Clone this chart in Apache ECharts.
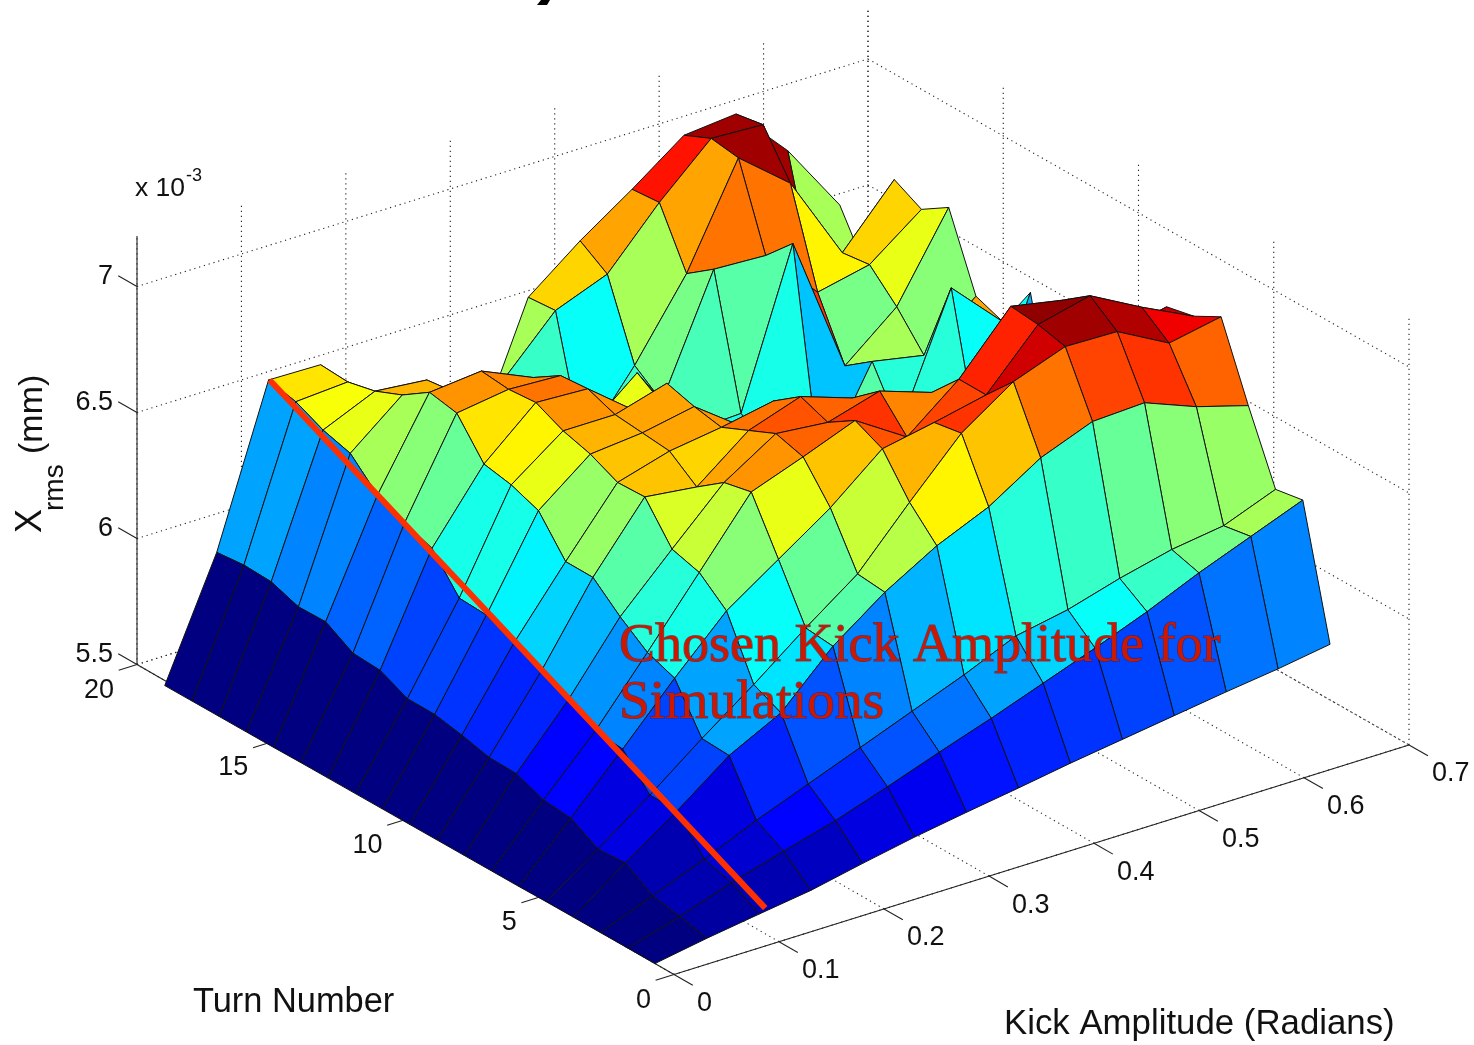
<!DOCTYPE html>
<html><head><meta charset="utf-8">
<style>html,body{margin:0;padding:0;background:#fff}#c{width:1474px;height:1045px}</style>
<script src="https://cdn.jsdelivr.net/npm/echarts@6/dist/echarts.min.js"></script>
</head><body><div id="c"></div>
<script>
// ---- data ----
const kickAmplitude = [0,.0495,.0989,.1484,.1978,.2473,.2967,.3462,.3956,.4451,.4945,.544,.5934,.6429];
const turnNumber = [.708,1.722,2.737,3.751,4.766,5.78,6.794,7.809,8.823,9.838,10.852,11.866,12.881,13.895,14.91,15.924,16.938,17.953,18.967];
const xrmsTurn00 = [5.50,5.536,5.567,5.597,5.64,5.68,5.714,5.746,5.78,5.81,5.84,5.87,5.897,5.93];
const xrmsTurn01 = [5.499,5.56,5.63,5.69,5.747,5.817,5.89,5.96,6.035,6.11,6.19,6.28,6.36,6.44];
const xrmsTurn02 = [5.498,5.58,5.66,5.75,5.83,5.91,5.99,6.07,6.16,6.2,6.26,6.31,6.34,6.42];
const xrmsTurn03 = [5.497,5.647,5.79,5.945,6.05,6.25,6.40,6.52,6.61,6.74,6.82,6.83,6.75,6.69];
const xrmsTurn04 = [5.496,5.64,5.79,5.95,6.10,6.26,6.41,6.63,6.84,6.98,7.055,7.05,6.94,6.98];
const xrmsTurn05 = [5.494,5.70,5.91,6.127,6.33,6.47,6.61,6.78,6.82,6.865,7.08,7.13,7.02,6.92];
const xrmsTurn06 = [5.493,5.71,5.92,6.167,6.42,6.675,6.75,6.83,6.70,6.865,7.09,7.05,6.85,6.895];
const xrmsTurn07 = [5.492,5.752,5.98,6.246,6.45,6.65,6.78,6.76,6.82,6.75,6.5,6.5,6.55,6.5];
const xrmsTurn08 = [5.491,5.754,6.03,6.34,6.595,6.57,6.73,6.80,6.73,6.5,6.3,6.2,6.2,6.3];
const xrmsTurn09 = [5.49,5.78,6.08,6.34,6.59,6.65,6.68,6.72,6.63,6.3,6.1,6.1,6.1,6.2];
const xrmsTurn10 = [5.489,5.80,6.13,6.48,6.64,6.66,6.70,6.55,6.4,6.2,6.05,6.1,5.98,6.1];
const xrmsTurn11 = [5.488,5.80,6.135,6.52,6.67,6.67,6.73,6.35,6.3,6.1,6.0,6.17,6.10,6.64];
const xrmsTurn12 = [5.487,5.85,6.27,6.54,6.72,6.71,6.55,6.3,6.15,6.1,6.25,6.17,6.66,6.46];
const xrmsTurn13 = [5.486,5.856,6.31,6.68,6.71,6.70,6.47,6.45,6.15,6.14,6.0,6.37,6.33,6.5];
const xrmsTurn14 = [5.484,5.918,6.357,6.70,6.72,6.63,6.35,6.52,6.22,6.23,6.84,6.29,6.46,6.79];
const xrmsTurn15 = [5.483,5.915,6.46,6.627,6.575,6.35,6.2,6.2,6.28,6.74,6.73,6.52,6.565,6.72];
const xrmsTurn16 = [5.482,5.952,6.49,6.58,6.56,6.3,6.2,6.10,6.36,6.66,7.055,6.89,6.55,6.776];
const xrmsTurn17 = [5.481,5.956,6.54,6.554,6.4,6.3,6.37,6.58,6.66,6.88,7.07,7.06,6.36,6.35];
const xrmsTurn18 = [5.48,5.944,6.564,6.56,6.3,6.2,6.07,6.57,6.73,6.87,7.02,7.04,6.83,6.55];
const xrms = [xrmsTurn00,xrmsTurn01,xrmsTurn02,xrmsTurn03,xrmsTurn04,xrmsTurn05,xrmsTurn06,xrmsTurn07,xrmsTurn08,xrmsTurn09,xrmsTurn10,xrmsTurn11,xrmsTurn12,xrmsTurn13,xrmsTurn14,xrmsTurn15,xrmsTurn16,xrmsTurn17,xrmsTurn18];
const chosenKickLine = [[.1,18.97,6.562],[.105,.708,5.583]];
const kickTicks = [0,.1,.2,.3,.4,.5,.6,.7];
const kickTickLabels = ['0','0.1','0.2','0.3','0.4','0.5','0.6','0.7'];
const turnTicks = [0,5,10,15,20];
const turnTickLabels = ['0','5','10','15','20'];
const xrmsTicks = [5.5,6,6.5,7];
const xrmsTickLabels = ['5.5','6','6.5','7'];
const xrmsTop = 7.2;

// ---- view projection (orthographic) ----
const VIEW = {ox:674, oy:974.5, kx:1050, ky:-328, tx:-26.85, ty:-15.5, zy:-252, z0:5.5};
function project(k,t,z){
  return [VIEW.ox+VIEW.kx*k+VIEW.tx*t, VIEW.oy+VIEW.ky*k+VIEW.ty*t+VIEW.zy*(z-VIEW.z0)];
}
// the back walls of the box sit very slightly closer together in the picture
function projectBox(k,t,z){
  const p=project(k,t,z), w=(k/.7)*(t/20);
  return [p[0]-4*w, p[1]+2*w];
}
// ---- jet colormap, 64 levels ----
const zAll = xrms.flat(), zMin = Math.min(...zAll), zMax = Math.max(...zAll);
function jet(v){
  let t=(v-zMin)/(zMax-zMin); t=Math.min(63,Math.floor(t*64))/63;
  const f=(o)=>Math.round(255*Math.max(0,Math.min(1,1.5-Math.abs(4*t-o))));
  return 'rgb('+f(3)+','+f(2)+','+f(1)+')';
}
// ---- cells back to front ----
const cells=[];
for(let j=turnNumber.length-2;j>=0;j--) for(let i=kickAmplitude.length-2;i>=0;i--) cells.push([i,j]);

// ---- box: grid and axis segments [k1,t1,z1,k2,t2,z2,kind], kind 0 dotted, 1 solid ----
const kMax=.7,tMax=20,zFloor=5.5;
const segs=[];
kickTicks.forEach(k=>{
  segs.push([k,0,zFloor,k,tMax,zFloor,0]);
  segs.push([k,tMax,zFloor,k,tMax,xrmsTop,0]);
});
turnTicks.forEach(t=>{
  segs.push([0,t,zFloor,kMax,t,zFloor,0]);
  segs.push([kMax,t,zFloor,kMax,t,xrmsTop,0]);
});
xrmsTicks.forEach(z=>{
  segs.push([0,tMax,z,kMax,tMax,z,0]);
  segs.push([kMax,tMax,z,kMax,0,z,0]);
});
const axisSegs=[[0,0,zFloor,kMax,0,zFloor,1],[0,0,zFloor,0,tMax,zFloor,1],[0,tMax,zFloor,0,tMax,xrmsTop,1]];
kickTicks.forEach(k=>axisSegs.push([k,0,zFloor,k,-.7,zFloor,1]));
turnTicks.forEach(t=>axisSegs.push([0,t,zFloor,-.0175,t,zFloor,1]));
xrmsTicks.forEach(z=>axisSegs.push([0,tMax,z,0,tMax+.7,z,1]));

function segRender(params,api){
  const a=api.coord(projectBox(api.value(0),api.value(1),api.value(2)));
  const b=api.coord(projectBox(api.value(3),api.value(4),api.value(5)));
  const solid=api.value(6)===1;
  return {type:'line',shape:{x1:a[0],y1:a[1],x2:b[0],y2:b[1]},
    style:{stroke:'#222',lineWidth:1.1,lineDash:solid?null:[1.2,3.8],fill:null},silent:true};
}
function cellRender(params,api){
  const i=api.value(0),j=api.value(1);
  const corner=(a,b)=>api.coord(project(kickAmplitude[a],turnNumber[b],xrms[b][a]));
  return {type:'polygon',shape:{points:[corner(i,j),corner(i+1,j),corner(i+1,j+1),corner(i,j+1)]},
    style:{fill:jet(xrms[j][i]),stroke:'#111',lineWidth:1,lineJoin:'round'},silent:true};
}
function chosenRender(params,api){
  const a=api.coord(project(chosenKickLine[0][0],chosenKickLine[0][1],chosenKickLine[0][2]));
  const b=api.coord(project(chosenKickLine[1][0],chosenKickLine[1][1],chosenKickLine[1][2]));
  return {type:'line',shape:{x1:a[0],y1:a[1],x2:b[0],y2:b[1]},style:{stroke:'#ff3000',lineWidth:6},silent:true};
}
const FONT='"Liberation Sans",Arial,sans-serif';
function labelRender(list,dx,dy,align,pos){
  return function(params,api){
    const n=api.value(0);
    const p=api.coord(pos(n));
    return {type:'text',x:p[0]+dx,y:p[1]+dy,silent:true,
      style:{text:list[n],font:'27px '+FONT,fill:'#111',align:align,verticalAlign:'middle'}};
  };
}
const axisX={type:'value',min:0,max:1474,show:false};
const axisY={type:'value',min:0,max:1045,inverse:true,show:false};
const idx=a=>a.map((_,n)=>[n,0]);
const plain={coordinateSystem:'cartesian2d',type:'custom',clip:false,animation:false,silent:true,encode:{x:0,y:1}};
const ANNOT={fill:'#cc1800',stroke:'rgba(60,20,60,.6)',lineWidth:1.2,verticalAlign:'middle'};
const option={
  animation:false,backgroundColor:'#fff',
  grid:{left:0,right:0,top:0,bottom:0},xAxis:axisX,yAxis:axisY,tooltip:{show:false},
  series:[
    Object.assign({},plain,{name:'box grid',renderItem:segRender,data:segs}),
    Object.assign({},plain,{name:'box axes',renderItem:segRender,data:axisSegs}),
    Object.assign({},plain,{name:'Xrms surface',renderItem:cellRender,data:cells}),
    Object.assign({},plain,{name:'chosen kick',renderItem:chosenRender,data:[[0,0]]}),
    Object.assign({},plain,{name:'kick labels',data:idx(kickTicks),
      renderItem:labelRender(kickTickLabels,23,29,'left',n=>project(kickTicks[n],0,zFloor))}),
    Object.assign({},plain,{name:'turn labels',data:idx(turnTicks),
      renderItem:labelRender(turnTickLabels,-23,26,'right',n=>project(0,turnTicks[n],zFloor))}),
    Object.assign({},plain,{name:'xrms labels',data:idx(xrmsTicks),
      renderItem:labelRender(xrmsTickLabels,-24,-10,'right',n=>project(0,tMax,xrmsTicks[n]))}),
  ],
  graphic:[
    {type:'text',z:100,x:193,y:1003,silent:true,style:{text:'Turn Number',font:'34.4px '+FONT,fill:'#111',verticalAlign:'middle'}},
    {type:'text',z:100,x:1004,y:1024,silent:true,style:{text:'Kick Amplitude (Radians)',font:'34.8px '+FONT,fill:'#111',verticalAlign:'middle'}},
    {type:'text',z:100,x:135,y:189,silent:true,style:{text:'x 10',font:'26.5px '+FONT,fill:'#111',verticalAlign:'middle'}},
    {type:'text',z:100,x:186,y:176,silent:true,style:{text:'-3',font:'18px '+FONT,fill:'#111',verticalAlign:'middle'}},
    {type:'text',z:100,x:31,y:533,rotation:Math.PI/2,silent:true,style:{text:'X',font:'36px '+FONT,fill:'#111',verticalAlign:'middle'}},
    {type:'text',z:100,x:55,y:511,rotation:Math.PI/2,silent:true,style:{text:'rms',font:'28px '+FONT,fill:'#111',verticalAlign:'middle'}},
    {type:'text',z:100,x:33,y:454,rotation:Math.PI/2,silent:true,style:{text:'(mm)',font:'34px '+FONT,fill:'#111',verticalAlign:'middle'}},
    {type:'text',z:100,x:619,y:647,silent:true,style:Object.assign({text:'Chosen Kick Amplitude for',font:'54px "Liberation Serif",serif'},ANNOT)},
    {type:'text',z:100,x:619,y:703,silent:true,style:Object.assign({text:'Simulations',font:'55.5px "Liberation Serif",serif'},ANNOT)},
    {type:'polygon',z:100,silent:true,shape:{points:[[537,5],[541,0],[550,0],[547,5]]},style:{fill:'#000'}}
  ]
};
echarts.init(document.getElementById('c'),null,{renderer:'canvas'}).setOption(option);
</script></body></html>
